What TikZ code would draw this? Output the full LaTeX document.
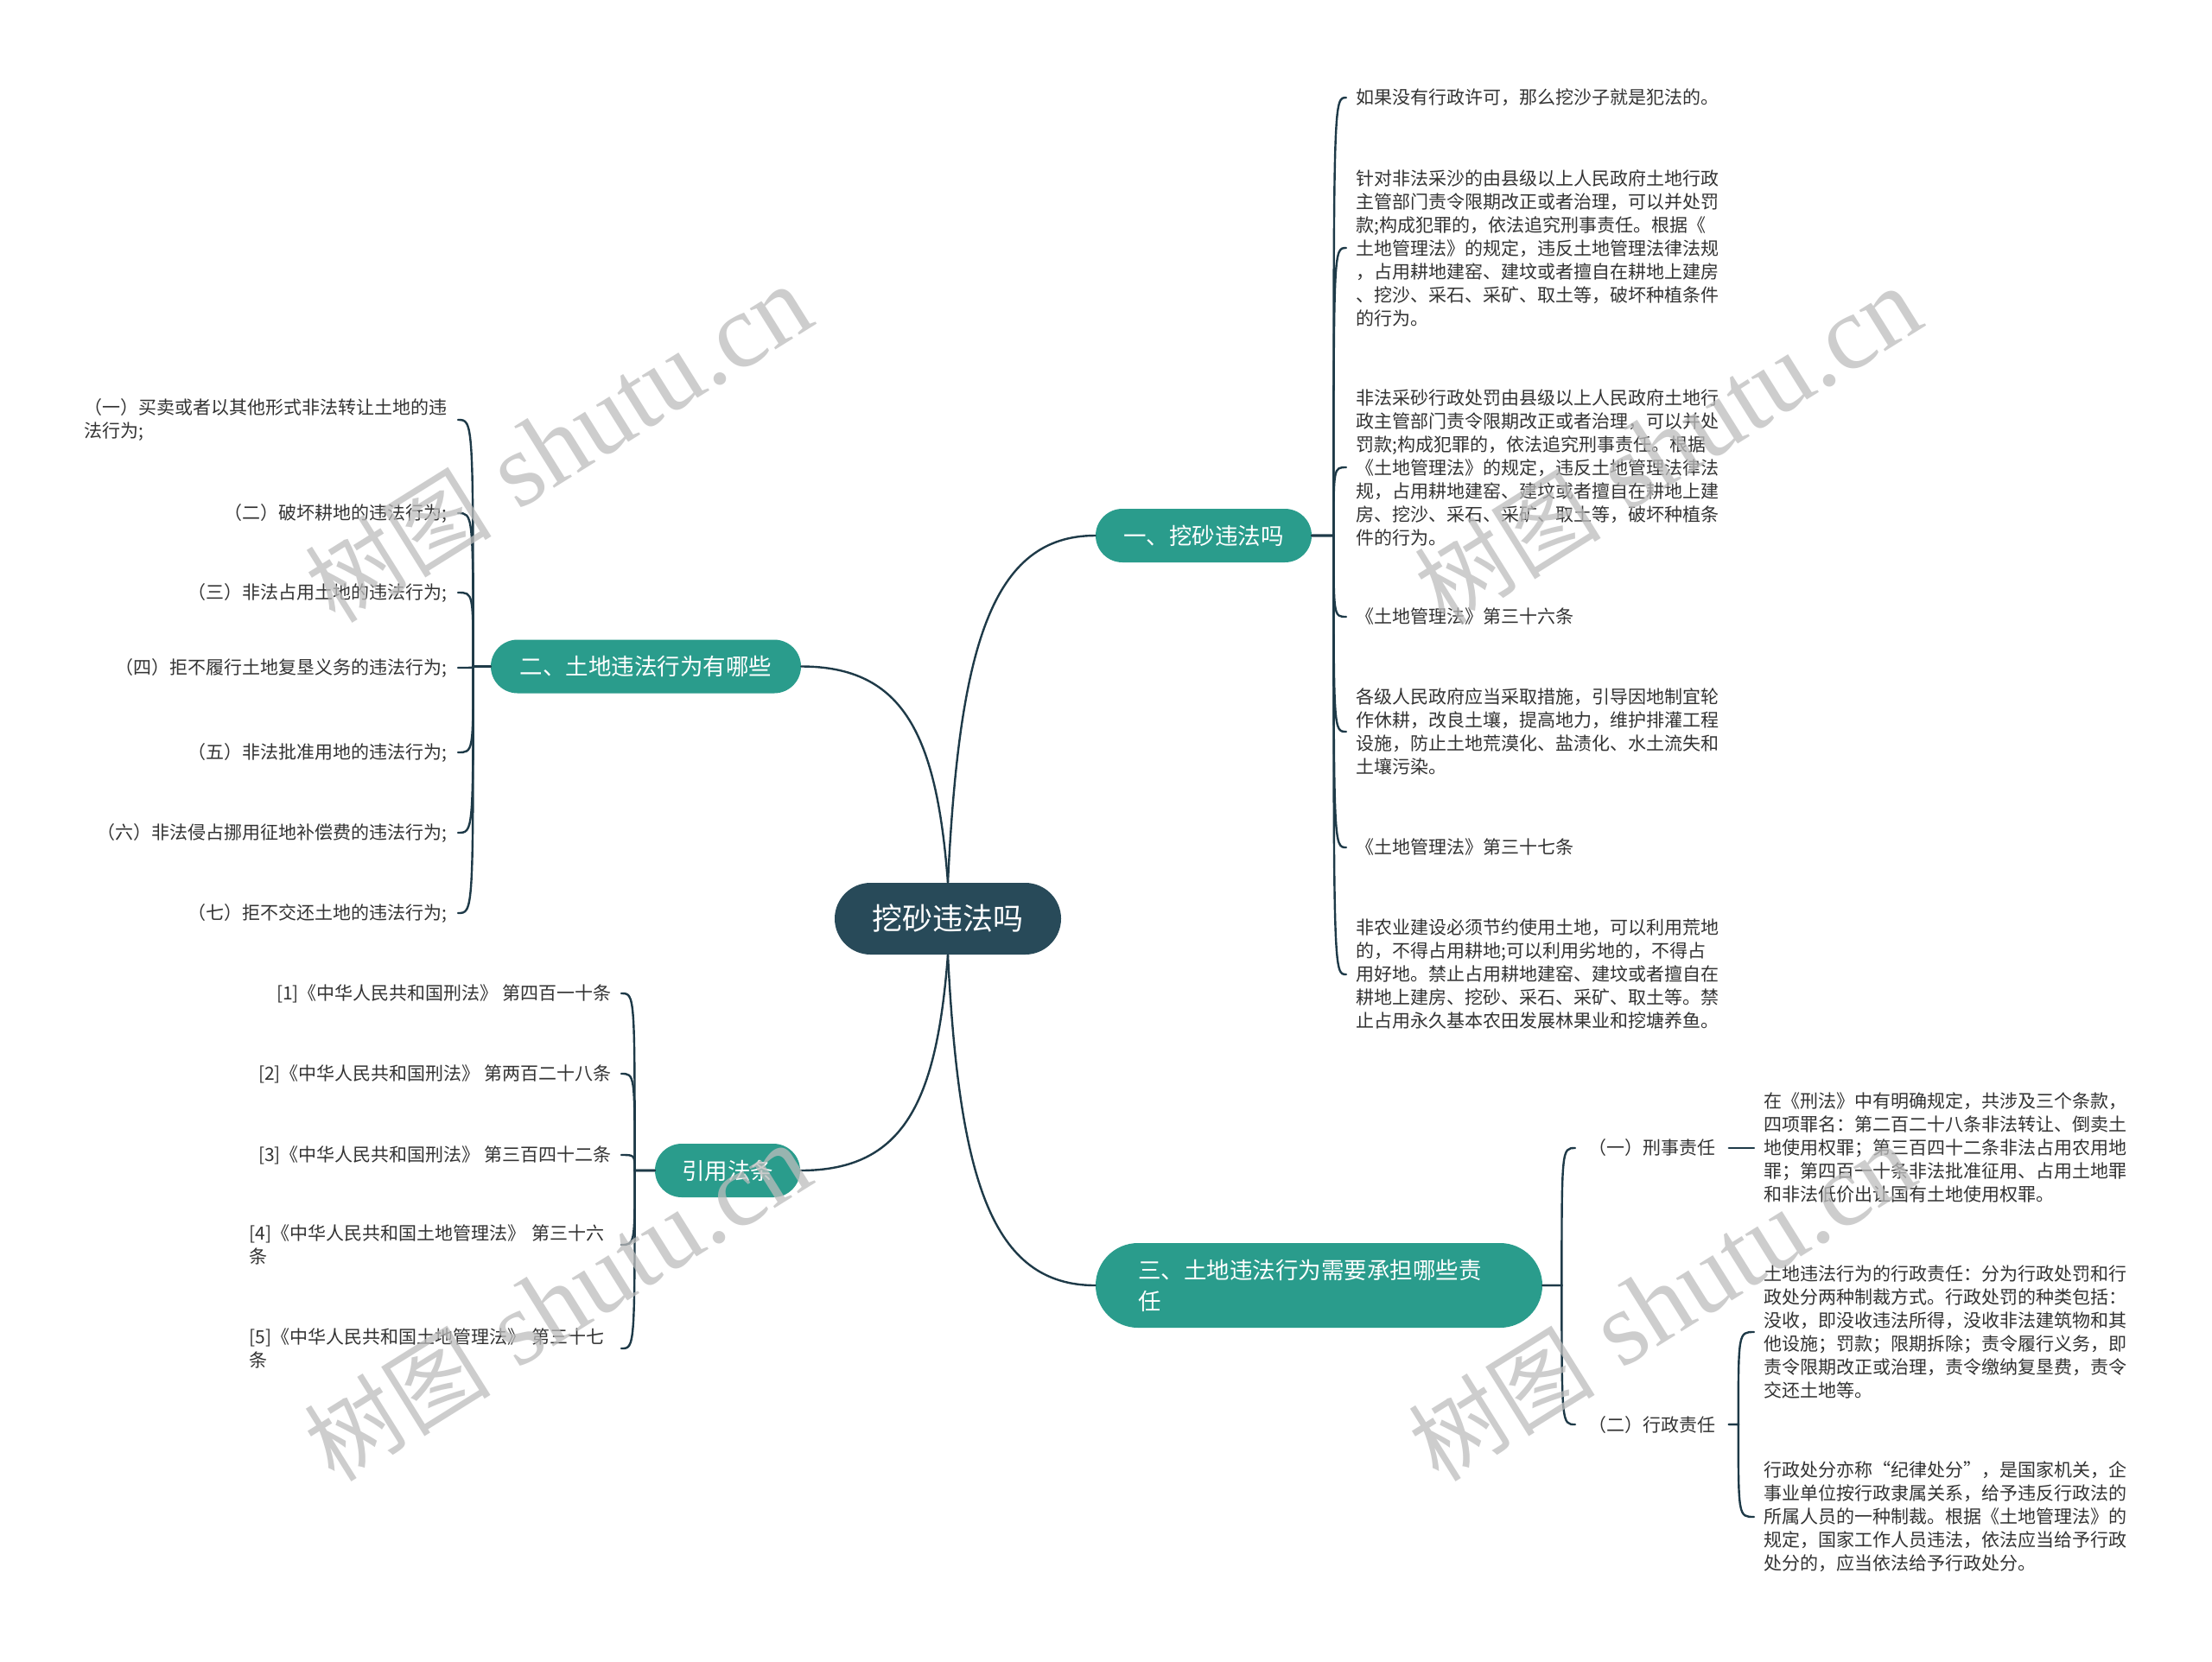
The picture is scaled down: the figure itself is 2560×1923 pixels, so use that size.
\documentclass[tikz,border=0pt]{standalone}
\usepackage{fontspec}
\setmainfont{Noto Sans CJK SC}
\newfontfamily\wmlatin{Liberation Serif}
\usetikzlibrary{calc}
\definecolor{linec}{HTML}{1E3A48}
\definecolor{rootc}{HTML}{284A59}
\definecolor{branchc}{HTML}{2A9C8C}
\definecolor{leaftext}{HTML}{333333}
\definecolor{wmc}{HTML}{BDBDBD}
\newcommand\bconn[3]{\draw[conn] (#1) -- (#2) .. controls (#2 |- #3) and (#2 |- #3) .. (#3);}
\newcommand\wmtext{\fontsize{54}{54}\selectfont 树图\hspace{0.3em}{\wmlatin\fontsize{61}{61}\selectfont shutu.cn}}
\begin{document}
\begin{tikzpicture}[x=0.5pt,y=-0.5pt,
  conn/.style={draw=linec, line width=1.2pt, line cap=round},
  rootnode/.style={fill=rootc, text=white, rounded corners=20.75pt, minimum width=131pt, minimum height=41.5pt, inner sep=0pt, font=\fontsize{17.5}{21}\selectfont},
  branch/.style={fill=branchc, text=white, rounded corners=15.5pt, minimum height=31pt, inner sep=0pt, font=\fontsize{13.25}{18}\selectfont},
  leafr/.style={text=leaftext, font=\fontsize{10.5}{13.5}\selectfont, inner ysep=0pt, inner xsep=5.5pt, align=left, anchor=west},
  leafl/.style={text=leaftext, font=\fontsize{10.5}{13.5}\selectfont, inner ysep=0pt, inner xsep=6pt, align=left, anchor=east},
  wm/.style={text=wmc, rotate=32, opacity=0.75, inner sep=0pt}]
\fill[white] (0,0) rectangle (2560,1923);
\useasboundingbox (0,0) rectangle (2560,1923);

% main nodes
\node[rootnode] (root) at (1097,1063.5) {挖砂违法吗};
\node[branch, minimum width=125pt] (b1) at (1393,620) {一、挖砂违法吗};
\node[branch, minimum width=179.5pt] (b2) at (747.5,771.5) {二、土地违法行为有哪些};
\node[branch, minimum width=84pt] (b3) at (842,1355) {引用法条};
\node[branch, minimum width=258.5pt, minimum height=49pt, rounded corners=24.5pt, text width=209.5pt, align=left] (b4) at (1526.5,1488) {三、土地违法行为需要承担哪些责\\任};

% branch 1 leaves
\node[leafr] (r1) at (1558,113) {如果没有行政许可，那么挖沙子就是犯法的。};
\node[leafr] (r2) at (1558,287) {针对非法采沙的由县级以上人民政府土地行政\\主管部门责令限期改正或者治理，可以并处罚\\款;构成犯罪的，依法追究刑事责任。根据《\\土地管理法》的规定，违反土地管理法律法规\\，占用耕地建窑、建坟或者擅自在耕地上建房\\、挖沙、采石、采矿、取土等，破坏种植条件\\的行为。};
\node[leafr] (r3) at (1558,541) {非法采砂行政处罚由县级以上人民政府土地行\\政主管部门责令限期改正或者治理，可以并处\\罚款;构成犯罪的，依法追究刑事责任。根据\\《土地管理法》的规定，违反土地管理法律法\\规，占用耕地建窑、建坟或者擅自在耕地上建\\房、挖沙、采石、采矿、取土等，破坏种植条\\件的行为。};
\node[leafr] (r4) at (1558,714) {《土地管理法》第三十六条};
\node[leafr] (r5) at (1558,847) {各级人民政府应当采取措施，引导因地制宜轮\\作休耕，改良土壤，提高地力，维护排灌工程\\设施，防止土地荒漠化、盐渍化、水土流失和\\土壤污染。};
\node[leafr] (r6) at (1558,981) {《土地管理法》第三十七条};
\node[leafr] (r7) at (1558,1128) {非农业建设必须节约使用土地，可以利用荒地\\的，不得占用耕地;可以利用劣地的，不得占\\用好地。禁止占用耕地建窑、建坟或者擅自在\\耕地上建房、挖砂、采石、采矿、取土等。禁\\止占用永久基本农田发展林果业和挖塘养鱼。};

% branch 2 leaves
\node[leafl, text width=210pt] (l1) at (530,486) {（一）买卖或者以其他形式非法转让土地的违\\法行为;};
\node[leafl] (l2) at (530,594) {（二）破坏耕地的违法行为;};
\node[leafl] (l3) at (530,686) {（三）非法占用土地的违法行为;};
\node[leafl] (l4) at (530,773) {（四）拒不履行土地复垦义务的违法行为;};
\node[leafl] (l5) at (530,871) {（五）非法批准用地的违法行为;};
\node[leafl] (l6) at (530,964) {（六）非法侵占挪用征地补偿费的违法行为;};
\node[leafl] (l7) at (530,1057) {（七）拒不交还土地的违法行为;};

% citation leaves
\node[leafl, inner xsep=5.5pt] (c1) at (719,1150) {[1]《中华人民共和国刑法》 第四百一十条};
\node[leafl, inner xsep=5.5pt] (c2) at (719,1243) {[2]《中华人民共和国刑法》 第两百二十八条};
\node[leafl, inner xsep=5.5pt] (c3) at (719,1337) {[3]《中华人民共和国刑法》 第三百四十二条};
\node[leafl, inner xsep=5.5pt, text width=209.5pt] (c4) at (719,1441) {[4]《中华人民共和国土地管理法》 第三十六\\条};
\node[leafl, inner xsep=5.5pt, text width=209.5pt] (c5) at (719,1561) {[5]《中华人民共和国土地管理法》 第三十七\\条};

% branch 3 leaves
\node[leafr, inner xsep=7.5pt] (k1) at (1823,1329) {（一）刑事责任};
\node[leafr, inner xsep=7.5pt] (k2) at (1823,1649) {（二）行政责任};
\node[leafr] (m1) at (2030,1329) {在《刑法》中有明确规定，共涉及三个条款，\\四项罪名：第二百二十八条非法转让、倒卖土\\地使用权罪；第三百四十二条非法占用农用地\\罪；第四百一十条非法批准征用、占用土地罪\\和非法低价出让国有土地使用权罪。};
\node[leafr] (m2) at (2030,1542) {土地违法行为的行政责任：分为行政处罚和行\\政处分两种制裁方式。行政处罚的种类包括：\\没收，即没收违法所得，没收非法建筑物和其\\他设施；罚款；限期拆除；责令履行义务，即\\责令限期改正或治理，责令缴纳复垦费，责令\\交还土地等。};
\node[leafr] (m3) at (2030,1756) {行政处分亦称“纪律处分”，是国家机关，企\\事业单位按行政隶属关系，给予违反行政法的\\所属人员的一种制裁。根据《土地管理法》的\\规定，国家工作人员违法，依法应当给予行政\\处分的，应当依法给予行政处分。};

% spine coordinates
\coordinate (s1) at ($(b1.east)+(25,0)$);
\coordinate (s2) at ($(b2.west)+(-20,0)$);
\coordinate (s3) at ($(b3.west)+(-23,0)$);
\coordinate (s4) at ($(b4.east)+(22,0)$);
\coordinate (s5) at ($(k2.east)+(11,0)$);

% main connectors
\draw[conn] (root.north) .. controls +(13,-273) and +(-120,0) .. (b1.west);
\draw[conn] (root.north) .. controls +(-13,-170) and +(119,0) .. (b2.east);
\draw[conn] (root.south) .. controls +(-13,170) and +(120,0) .. (b3.east);
\draw[conn] (root.south) .. controls +(13,260) and +(-120,0) .. (b4.west);

% leaf connectors
\foreach \c in {r1,r2,r3,r4,r5,r6,r7} {\bconn{b1.east}{s1}{\c.west}}
\foreach \c in {l1,l2,l3,l4,l5,l6,l7} {\bconn{b2.west}{s2}{\c.east}}
\foreach \c in {c1,c2,c3,c4,c5} {\bconn{b3.west}{s3}{\c.east}}
\foreach \c in {k1,k2} {\bconn{b4.east}{s4}{\c.west}}
\draw[conn] (k1.east) -- (m1.west);
\foreach \c in {m2,m3} {\bconn{k2.east}{s5}{\c.west}}

% watermarks
\node[wm] (w1) at (646,514) {\wmtext};
\node[wm] (w2) at (1930,516) {\wmtext};
\node[wm] (w3) at (645,1508) {\wmtext};
\node[wm] (w4) at (1923,1508) {\wmtext};
\end{tikzpicture}
\end{document}
